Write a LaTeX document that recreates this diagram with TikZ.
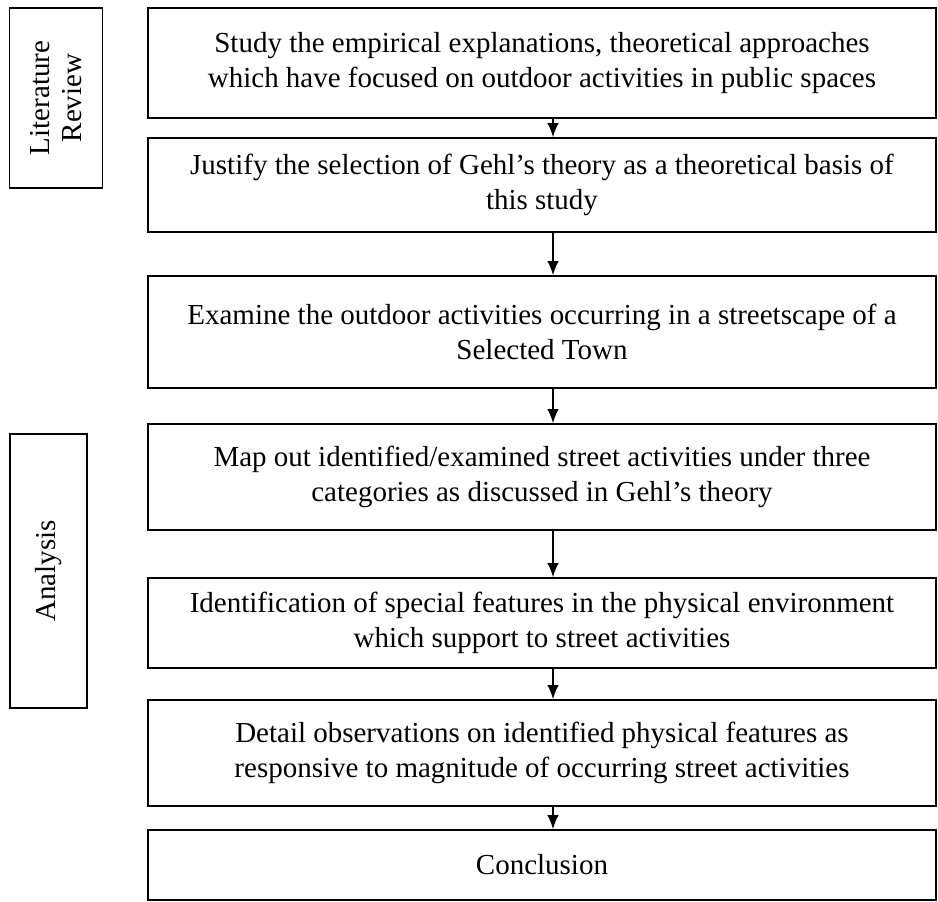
\documentclass[tikz,border=0pt]{standalone}
\usepackage{fontspec}
\setmainfont{Liberation Serif}
\usetikzlibrary{positioning,arrows.meta}
\begin{document}
\begin{tikzpicture}[x=0.02cm,y=-0.02cm,
  stepbox/.style={draw,line width=0.9pt,minimum width=15.76cm,align=center,
    inner sep=0pt,font=\fontsize{16.5}{20}\selectfont},
  sidebox/.style={draw,line width=0.9pt,rotate=90,align=center,
    inner sep=0pt,font=\fontsize{16.5}{18}\selectfont},
  flow/.style={line width=0.9pt,-{Latex[length=8pt,width=6.5pt]}}]
\useasboundingbox (0,0) rectangle (938,902);

% side labels
\node[sidebox,minimum width=3.6cm,minimum height=1.86cm] (lit) at (56,98) {Literature\\Review};
\node[sidebox,minimum width=5.48cm,minimum height=1.54cm] (ana) at (48.5,571) {Analysis};

% main steps
\node[stepbox,minimum height=2.2cm] (s1) at (542,63)
  {Study the empirical explanations, theoretical approaches\\which have focused on outdoor activities in public spaces};
\node[stepbox,minimum height=1.88cm] (s2) at (542,185)
  {Justify the selection of Gehl's theory as a theoretical basis of\\this study};
\node[stepbox,minimum height=2.24cm] (s3) at (542,332)
  {Examine the outdoor activities occurring in a streetscape of a\\Selected Town};
\node[stepbox,minimum height=2.12cm] (s4) at (542,477)
  {Map out identified/examined street activities under three\\categories as discussed in Gehl's theory};
\node[stepbox,minimum height=1.8cm] (s5) at (542,623)
  {Identification of special features in the physical environment\\which support to street activities};
\node[stepbox,minimum height=2.12cm] (s6) at (542,753)
  {Detail observations on identified physical features as\\responsive to magnitude of occurring street activities};
\node[stepbox,minimum height=1.4cm] (s7) at (542,865) {Conclusion};

\foreach \A/\B in {s1/s2,s2/s3,s3/s4,s4/s5,s5/s6,s6/s7} {
  \draw[flow] ([xshift=0.22cm]\A.south) -- ([xshift=0.22cm]\B.north);
}
\end{tikzpicture}
\end{document}
